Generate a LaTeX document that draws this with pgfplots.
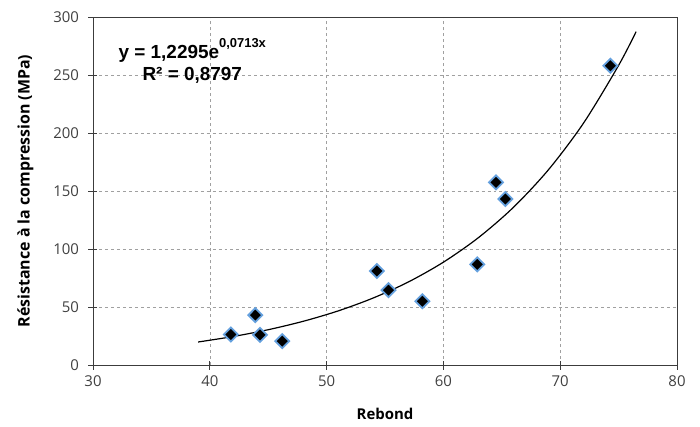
\documentclass[border=0pt]{standalone}
\usepackage{pgfplots}
\pgfplotsset{compat=1.18}
\usepackage{fontspec}
\setmainfont{Open Sans}
\newfontfamily\eqfont{Liberation Sans}

\definecolor{markedge}{RGB}{100,160,222}
\definecolor{gridgray}{RGB}{160,160,160}
\definecolor{axisgray}{RGB}{60,60,60}
\definecolor{labelgray}{RGB}{64,64,64}

\begin{document}
\begin{tikzpicture}[x=1bp,y=1bp]
\begin{axis}[
name=ax,
scale only axis,
width=584bp,
height=348bp,
xmin=30, xmax=80,
ymin=0, ymax=300,
xtick={30,40,50,60,70,80},
ytick={0,50,100,150,200,250,300},
tick align=center,
tick pos=left,
major tick length=9bp,
grid=major,
major grid style={dashed, gridgray, line width=0.6pt},
axis line style={axisgray, line width=0.8pt},
tick style={axisgray, line width=0.8pt},
ticklabel style={font=\fontsize{15}{17}\selectfont, color=labelgray},
yticklabel style={xshift=-6bp},
xticklabel style={yshift=-3bp},
/pgf/number format/assume math mode=true,
xlabel={\textbf{Rebond}},
ylabel={\textbf{Résistance à la compression (MPa)}},
xlabel style={font=\fontsize{15}{17}\selectfont, yshift=-14bp},
ylabel style={font=\fontsize{16}{18}\selectfont, yshift=13bp},
]
\addplot [black, line width=1.2pt, smooth] coordinates {
(39,19.83) (42,24.56) (45,30.42) (48,37.68) (51,46.66) (54,57.8)
(57,71.57) (60,88.64) (63,109.8) (66,135.96) (69,168.4) (72,208.56)
(75,258.3) (76.5,287.4)
};
\addplot [only marks, mark=diamond*, mark size=7bp,
  mark options={xscale=1.33, fill=black, draw=markedge, line width=1.8pt}] coordinates {
(41.8,26.3) (43.9,43.0) (44.3,26.0) (46.2,20.6) (54.3,81.0) (55.3,64.5)
(58.2,55.0) (62.9,86.8) (64.5,157.4) (65.3,143.1) (74.3,258)
};
\node[font=\eqfont\bfseries\fontsize{19}{22}\selectfont, align=center]
  at (axis cs:38.5,262) {y = 1,2295e\raisebox{0.6em}{\fontsize{13}{13}\selectfont 0,0713x}\\R² = 0,8797};
\end{axis}
\pgfresetboundingbox
\path[use as bounding box] ([shift={(-93bp,-62bp)}]ax.south west) rectangle ([shift={(23bp,17bp)}]ax.north east);
\end{tikzpicture}
\end{document}
